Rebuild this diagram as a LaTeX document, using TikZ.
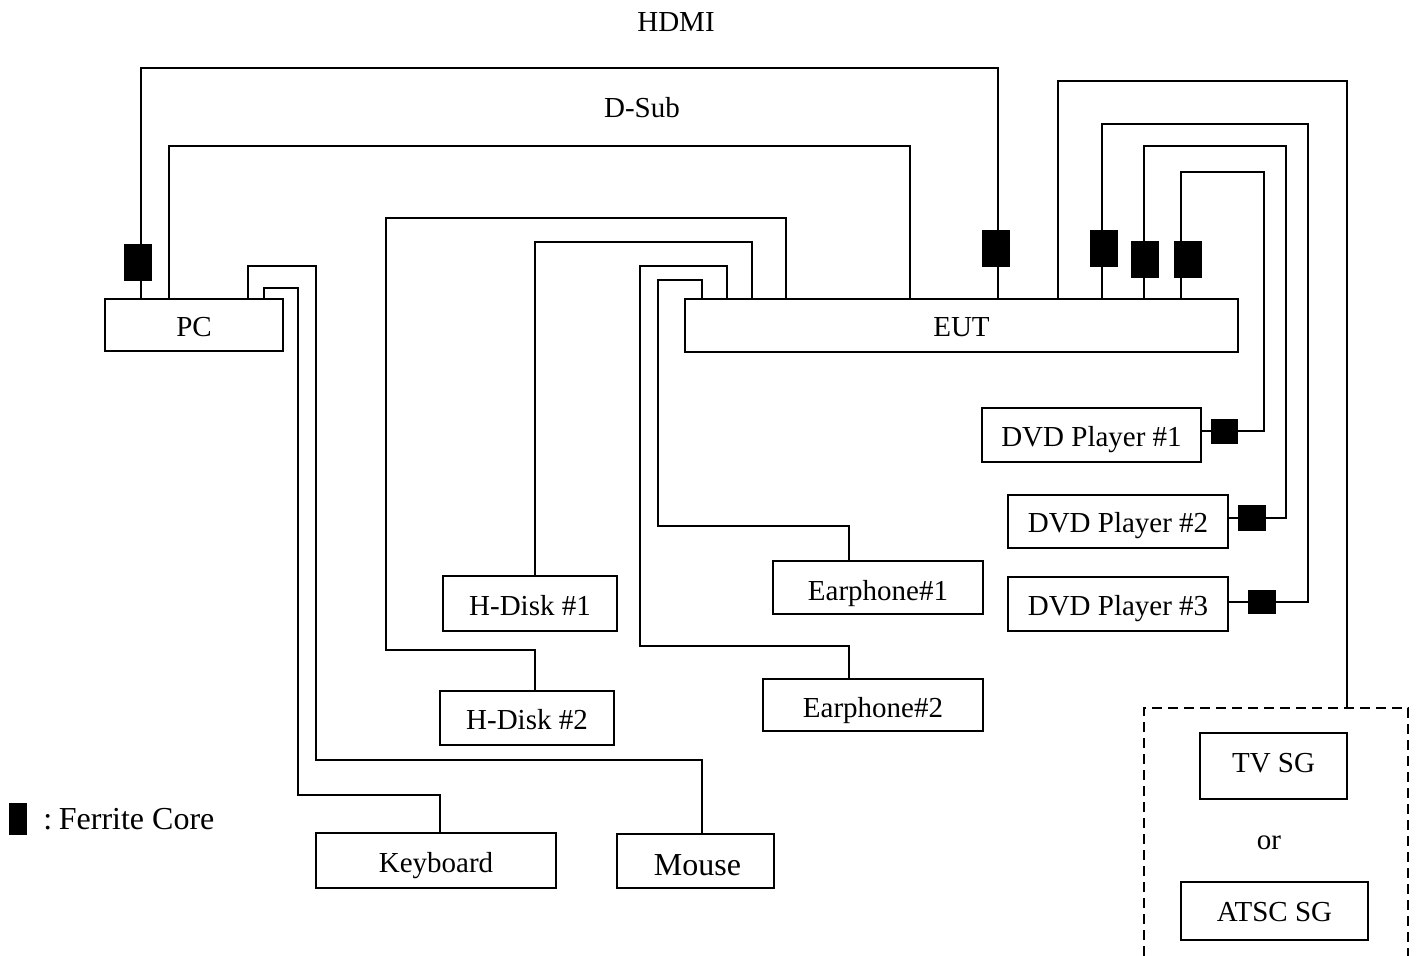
\documentclass[tikz,border=0pt]{standalone}
\usepackage{fontspec}
\setmainfont{Liberation Serif}
\begin{document}
\begin{tikzpicture}[
    x=0.5pt,y=-0.5pt,
    box/.style 2 args={draw,line width=1pt,inner sep=0pt,text depth=0pt,minimum width=#1,minimum height=#2},
    wire/.style={line width=1pt},
    core/.style={fill=black,inner sep=0pt,minimum width=14pt,minimum height=18.5pt},
    lbl/.style={font=\fontsize{14.5}{17}\selectfont},
    biglbl/.style={font=\fontsize{16}{19}\selectfont}
]
\useasboundingbox (0,0) rectangle (1416,956);

% equipment
\node[box={89pt}{26pt},lbl,text height=11.6pt] (pc) at (194,325) {PC};
\node[box={276.5pt}{26.5pt},lbl,text height=11.1pt] (eut) at (961.5,325.5) {EUT};
\node[box={109.5pt}{27pt},lbl,text height=11.6pt] (dvdA) at (1091.5,435) {DVD Player \#1};
\node[box={110pt}{26.5pt},lbl,text height=10.8pt] (dvdB) at (1118,521.5) {DVD Player \#2};
\node[box={110pt}{27pt},lbl,text height=11.8pt] (dvdC) at (1118,604) {DVD Player \#3};
\node[box={87pt}{27.5pt},lbl,text height=11.6pt] (diskA) at (530,603.5) {H-Disk \#1};
\node[box={87pt}{27pt},lbl,text height=11.6pt] (diskB) at (527,718) {H-Disk \#2};
\node[box={105pt}{26.5pt},lbl,text height=12.8pt] (earA) at (878,587.5) {Earphone\#1};
\node[box={110pt}{26pt},lbl,text height=12.8pt] (earB) at (873,705) {Earphone\#2};
\node[box={120pt}{27.5pt},lbl,text height=11.8pt] (keyboard) at (436,860.5) {Keyboard};
\node[box={78.5pt}{27pt},biglbl,text height=14.6pt] (mouse) at (695.5,861) {\hspace{2pt}Mouse};
\node[box={73.5pt}{33pt},lbl,text height=6.6pt] (tvsg) at (1273.5,766) {TV SG};
\node[box={93.5pt}{29pt},lbl,text height=10.6pt] (atsc) at (1274.5,911) {ATSC SG};
\node[lbl] (orlbl) at (1269,843) {or};

% signal generator group, open at the bottom
\coordinate (sgTop) at (1347,708);
\draw[wire,dashed,dash pattern=on 5pt off 3pt] (1144,956) -- (1144,708) -- (1408,708) -- (1408,956);

% PC to EUT
\draw[wire] (pc.north -| 141,0) -- (141,68) -- (998,68) -- (eut.north -| 998,0);
\draw[wire] (pc.north -| 169,0) -- (169,146) -- (910,146) -- (eut.north -| 910,0);
\node[lbl] (hdmi) at (676,22) {HDMI};
\node[lbl] (dsub) at (642,108) {D-Sub};

% PC to keyboard and mouse
\draw[wire] (pc.north -| 248,0) -- (248,266) -- (316,266) -- (316,760) -- (702,760) -- (mouse.north -| 702,0);
\draw[wire] (pc.north -| 264,0) -- (264,288) -- (298,288) -- (298,795) -- (440,795) -- (keyboard.north -| 440,0);

% EUT to disks and earphones
\draw[wire] (eut.north -| 786,0) -- (786,218) -- (386,218) -- (386,650) -- (535,650) -- (diskB.north -| 535,0);
\draw[wire] (eut.north -| 752,0) -- (752,242) -- (535,242) -- (diskA.north -| 535,0);
\draw[wire] (eut.north -| 727,0) -- (727,266) -- (640,266) -- (640,646) -- (849,646) -- (earB.north -| 849,0);
\draw[wire] (eut.north -| 702,0) -- (702,280) -- (658,280) -- (658,526) -- (849,526) -- (earA.north -| 849,0);

% EUT to DVD players and generator
\draw[wire] (eut.north -| 1058,0) -- (1058,81) -- (1347,81) -- (sgTop);
\draw[wire] (eut.north -| 1102,0) -- (1102,124) -- (1308,124) -- (1308,602) -- (dvdC.east |- 0,602);
\draw[wire] (eut.north -| 1144,0) -- (1144,146) -- (1286,146) -- (1286,518) -- (dvdB.east |- 0,518);
\draw[wire] (eut.north -| 1181,0) -- (1181,172) -- (1264,172) -- (1264,431) -- (dvdA.east |- 0,431);

% ferrite cores
\node[core] (corePc) at (138,262.5) {};
\node[core] (coreHdmi) at (995.5,248.5) {};
\node[core] (coreEutA) at (1104,248.5) {};
\node[core] (coreEutB) at (1145,259.5) {};
\node[core] (coreEutC) at (1187.5,259.5) {};
\node[core,minimum width=13.5pt,minimum height=12.5pt] (coreDvdA) at (1224,431.5) {};
\node[core,minimum height=13pt] (coreDvdB) at (1251.5,518) {};
\node[core,minimum height=12pt] (coreDvdC) at (1262,602) {};

% legend
\node[core,minimum width=9pt,minimum height=16pt] (coreKey) at (18,819) {};
\node[biglbl,anchor=west,inner sep=0pt] (coreLbl) at (43,819) {:\hspace{3.3pt}Ferrite Core};

\end{tikzpicture}
\end{document}
